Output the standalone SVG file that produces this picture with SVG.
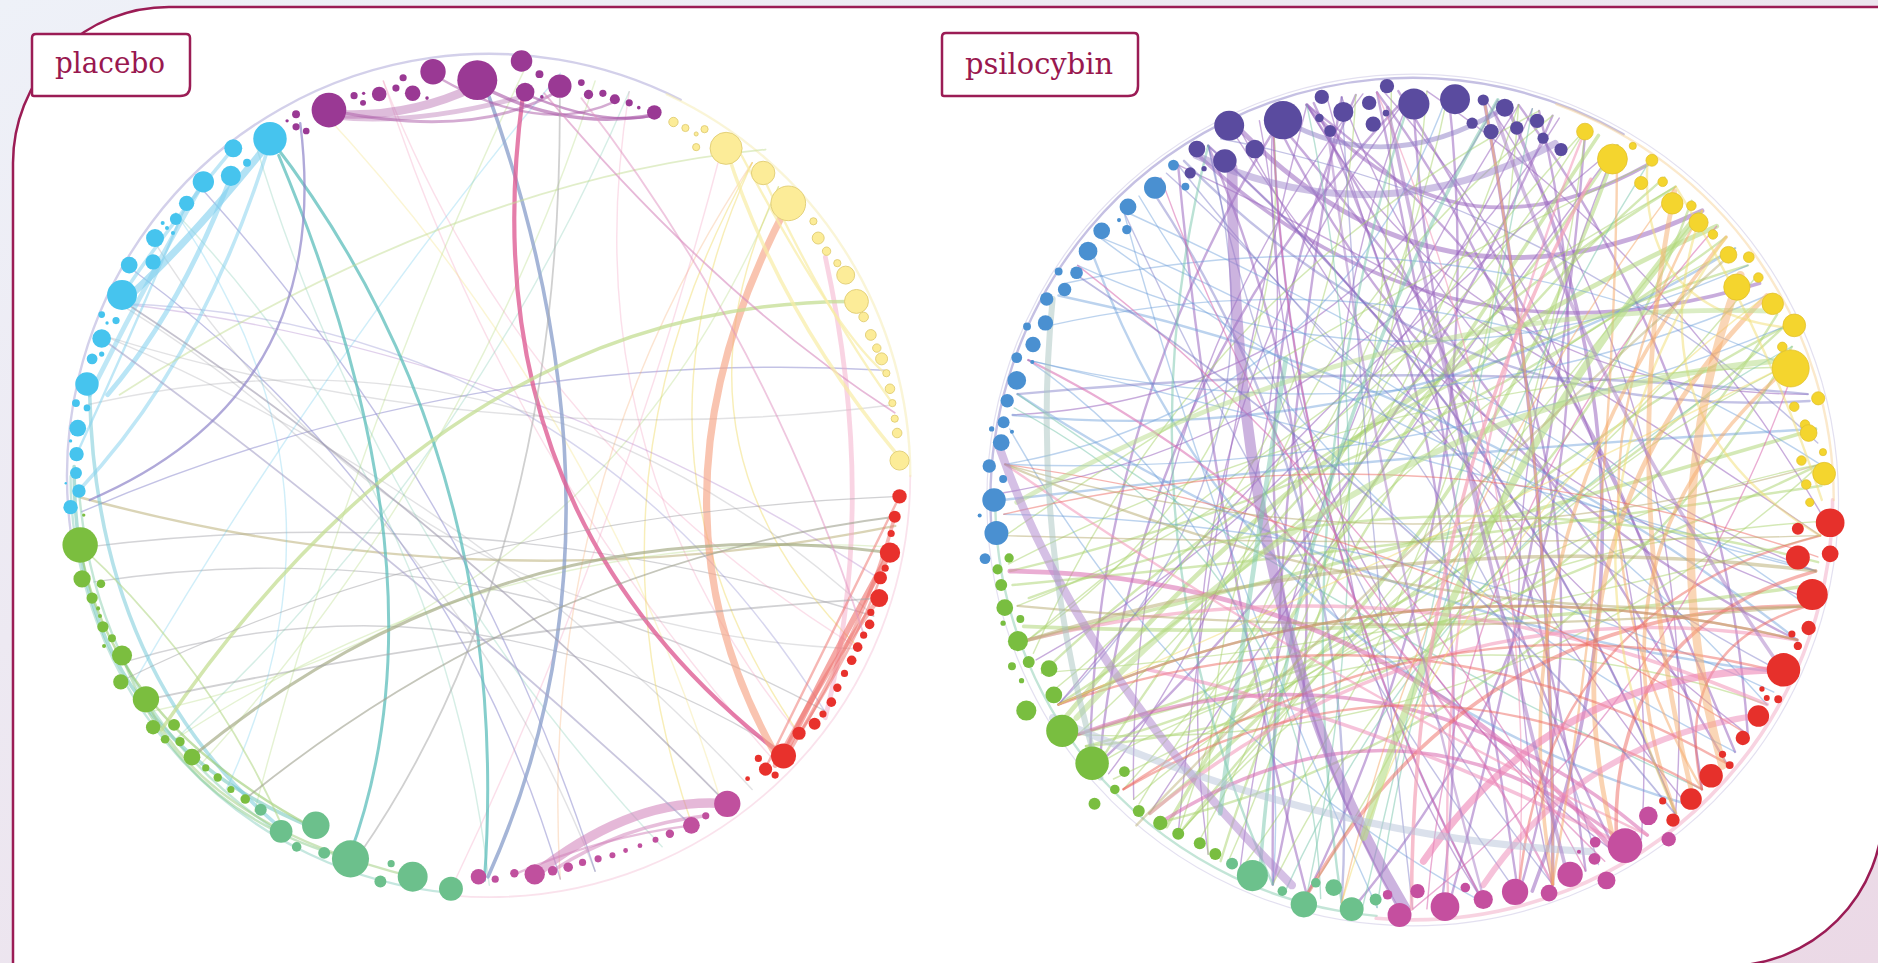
<svg xmlns="http://www.w3.org/2000/svg" width="1878" height="963" viewBox="0 0 1878 963">
<style>
.pu{stroke:#9A67C0;stroke-opacity:.55}.gr{stroke:#A9D46E;stroke-opacity:.5}.bl{stroke:#6A9ED9;stroke-opacity:.45}
.vi{stroke:#7B78C6;stroke-opacity:.45}.te{stroke:#78C6AC;stroke-opacity:.5}.mg{stroke:#D96AAE;stroke-opacity:.55}
.pk{stroke:#F295B8;stroke-opacity:.55}.or{stroke:#F5A766;stroke-opacity:.5}.rd{stroke:#EE6A62;stroke-opacity:.5}
.ol{stroke:#B5AA6E;stroke-opacity:.5}.ye{stroke:#F2DE72;stroke-opacity:.5}.gy{stroke:#9FA0A6;stroke-opacity:.45}
.cy{stroke:#62C6EC;stroke-opacity:.5}.f{stroke-opacity:.3}
.w1{stroke-width:1.2}.w2{stroke-width:2}.w3{stroke-width:3}.w4{stroke-width:4}.w5{stroke-width:5}
.label{font-family:"DejaVu Serif","Liberation Serif",serif;font-size:29px;fill:#99184F}
.box{fill:#fff;stroke:#9B1C55;stroke-width:2.5}
.a{fill:#9A3994}.b{fill:#FCEC98;stroke:#E2CF78;stroke-width:.8}.c{fill:#E8312C}.d{fill:#C0509E}.e{fill:#6CC08C}.g{fill:#7BBE3F}.h{fill:#46C4EE}
.A{fill:#5A4B9F}.B{fill:#F4D52E;stroke:#E0BE2A;stroke-width:.6}.C{fill:#E6302B}.D{fill:#C54F9F}.E{fill:#6CC18C}.G{fill:#79BE40}.H{fill:#4A90D1}
</style>
<defs>
<linearGradient id="bg" x1="0" y1="0" x2="1" y2="1"><stop offset="0" stop-color="#EEF1F8"/><stop offset="1" stop-color="#EBD9E6"/></linearGradient>
<path id="i15" fill="none" d="M339.1,-44.6 Q288.2,0 339.1,44.6"/>
<path id="i30" fill="none" d="M330.3,-88.5 Q247.7,0 330.3,88.5"/>
<path id="i50" fill="none" d="M310,-144.5 Q192.2,0 310,144.5"/>
<path id="i70" fill="none" d="M280.1,-196.2 Q140.1,0 280.1,196.2"/>
<path id="i90" fill="none" d="M241.8,-241.8 Q101.6,0 241.8,241.8"/>
<path id="i110" fill="none" d="M196.2,-280.1 Q68.7,0 196.2,280.1"/>
<path id="i130" fill="none" d="M144.5,-310 Q40.5,0 144.5,310"/>
<path id="i150" fill="none" d="M88.5,-330.3 Q17.7,0 88.5,330.3"/>
<path id="i170" fill="none" d="M29.8,-340.7 Q-150,0 29.8,340.7"/>
<path id="n170" fill="none" d="M29.8,-340.7 Q40,0 29.8,340.7"/>
<path id="k170" fill="none" d="M29.8,-340.7 Q-70,0 29.8,340.7"/>
<path id="m130" fill="none" d="M144.5,-310 Q170,0 144.5,310"/>
<path id="m150" fill="none" d="M88.5,-330.3 Q120,0 88.5,330.3"/>
<path id="m170" fill="none" d="M29.8,-340.7 Q110,0 29.8,340.7"/>
<path id="o50" fill="none" d="M310,-144.5 Q327.6,0 310,144.5"/>
<path id="o90" fill="none" d="M241.8,-241.8 Q296.9,0 241.8,241.8"/>
<path id="o110" fill="none" d="M196.2,-280.1 Q276.4,0 196.2,280.1"/>
<path id="o130" fill="none" d="M144.5,-310 Q253.1,0 144.5,310"/>
<path id="o150" fill="none" d="M88.5,-330.3 Q227.9,0 88.5,330.3"/>
<path id="o170" fill="none" d="M29.8,-340.7 Q201.5,0 29.8,340.7"/>
</defs>

<rect width="1878" height="963" fill="url(#bg)"/>
<path id="frame" d="M13,975 V163 A156,156 0 0 1 169,7 H1883 V810 A156,156 0 0 1 1727,966 Z" fill="#fff" stroke="#9B1C55" stroke-width="2.5"/>

<g transform="scale(1.19618)">
<!-- ================= PLACEBO ================= -->
<g id="placebo-connectors" fill="none" stroke-linecap="round">
 <g transform="translate(409,398)">
  <circle r="353" pathLength="360" stroke="#B5B1DC" stroke-width="2" stroke-opacity=".6" stroke-dasharray="125 235" transform="rotate(172)"/>
  <circle r="350" pathLength="360" stroke="#8CCFC0" stroke-width="2" stroke-opacity=".5" stroke-dasharray="85 275" transform="rotate(95)"/>
  <circle r="352" pathLength="360" stroke="#F3B6CF" stroke-width="1.5" stroke-opacity=".4" stroke-dasharray="95 265" transform="rotate(0)"/>
  <circle r="352" pathLength="360" stroke="#F5EBB0" stroke-width="2" stroke-opacity=".5" stroke-dasharray="65 295" transform="rotate(295)"/>
  <use href="#i150" transform="rotate(95)" class="gy w1"/>
  <use href="#i130" transform="rotate(100)" class="gy w1"/>
  <use href="#m170" transform="rotate(92)" class="ol w2"/>
  <use href="#i110" transform="rotate(98)" class="gy w1"/>
  <use href="#m170" transform="rotate(260)" class="vi w1"/>
  <use href="#i150" transform="rotate(150)" class="vi w1"/>
  <use href="#i130" transform="rotate(145)" class="vi w1"/>
  <use href="#i150" transform="rotate(330)" class="pk w1 f"/>
  <use href="#i130" transform="rotate(320)" class="pk w1 f"/>
  <use href="#i90" transform="rotate(355)" class="ye w1"/>
  <use href="#i110" transform="rotate(5)" class="ye w1"/>
  <use href="#i70" transform="rotate(350)" class="ye w1"/>
  <use href="#i150" transform="rotate(210)" class="gr w1 f"/>
  <use href="#i170" transform="rotate(230)" class="gr w1 f"/>
  <use href="#i130" transform="rotate(155)" class="te w1 f"/>
  <use href="#i90" transform="rotate(175)" class="cy w1 f"/>
  <use href="#i170" transform="rotate(300)" class="gy w1 f"/>
  <use href="#i150" transform="rotate(275)" class="gy w1 f"/>
  <use href="#i130" transform="rotate(140)" class="gy w1 f"/>
  <use href="#i110" transform="rotate(345)" class="pk w1 f"/>
  <use href="#i170" transform="rotate(120)" class="vi w1 f"/>
  <use href="#i150" transform="rotate(125)" class="gy w1 f"/>
  <use href="#i150" transform="rotate(215)" class="te w1 f"/>
  <use href="#i130" transform="rotate(15)" class="or w1 f"/>
  <use href="#i130" transform="rotate(75)" class="gr w1 f"/>
  <use href="#i170" transform="rotate(105)" class="gy w1 f"/>
  <use href="#m170" transform="rotate(290)" class="pu w1 f"/>
  <use href="#m150" transform="rotate(20)" class="pk w1 f"/>
  <use href="#m150" transform="rotate(200)" class="gr w1 f"/>
  <use href="#m130" transform="rotate(215)" class="cy w1 f"/>
  <use href="#m170" transform="rotate(330)" class="ye w1 f"/>
  <use href="#m170" transform="rotate(150)" class="te w1 f"/>
 </g>
 <path d="M62,390 Q60,610 262,692" stroke="#7CC9C0" stroke-width="3" stroke-opacity=".6"/>
 <path d="M75,330 Q80,560 232,690" stroke="#6CC6D6" stroke-width="3" stroke-opacity=".5"/>
 <path d="M66,410 Q82,600 240,700" stroke="#8ACFB0" stroke-width="2" stroke-opacity=".5"/>
 <path d="M67,456 Q90,600 262,692" stroke="#9ACB6F" stroke-width="2" stroke-opacity=".6"/>
 <path d="M67,456 Q180,560 240,700" stroke="#B5D98C" stroke-width="1.5" stroke-opacity=".6"/>
 <path d="M102,548 Q150,680 293,718" stroke="#8ACB8A" stroke-width="2" stroke-opacity=".5"/>
 <path d="M122,585 Q170,690 345,733" stroke="#9BCB7A" stroke-width="2" stroke-opacity=".5"/>
 <path d="M226,118 Q160,200 110,246" stroke="#7FCFEE" stroke-width="6" stroke-opacity=".6"/>
 <path d="M193,148 Q150,260 90,330" stroke="#7FCFEE" stroke-width="4" stroke-opacity=".55"/>
 <path d="M170,152 Q120,240 75,330" stroke="#7FCFEE" stroke-width="4" stroke-opacity=".5"/>
 <path d="M226,118 Q170,300 66,410" stroke="#7FCFEE" stroke-width="3" stroke-opacity=".5"/>
 <path d="M156,170 Q110,280 64,380" stroke="#7FCFEE" stroke-width="2" stroke-opacity=".5"/>
 <path d="M195,124 Q140,190 102,247" stroke="#7FCFEE" stroke-width="3" stroke-opacity=".5"/>
 <path d="M226,116 Q430,380 405,736" stroke="#5CBDBB" stroke-width="2.5" stroke-opacity=".75"/>
 <path d="M233,130 Q380,480 292,716" stroke="#5CBDBB" stroke-width="2.5" stroke-opacity=".75"/>
 <path d="M405,70 Q540,440 408,733" stroke="#8FA3CD" stroke-width="3" stroke-opacity=".8"/>
 <path d="M437,81 Q390,430 655,632" stroke="#DE5E95" stroke-width="3.5" stroke-opacity=".8"/>
 <path d="M655,178 Q530,420 648,630" stroke="#F6A585" stroke-width="6" stroke-opacity=".65"/>
 <path d="M690,215 Q735,420 690,600" stroke="#F4A9C8" stroke-width="4" stroke-opacity=".5"/>
 <path d="M655,632 Q700,540 744,462" stroke="#EE6F6A" stroke-width="5" stroke-opacity=".6"/>
 <path d="M648,640 Q690,560 735,500" stroke="#EE6F6A" stroke-width="4" stroke-opacity=".5"/>
 <path d="M660,628 Q725,520 748,432" stroke="#EE6F6A" stroke-width="3" stroke-opacity=".5"/>
 <path d="M640,642 Q700,520 752,415" stroke="#EE6F6A" stroke-width="2" stroke-opacity=".5"/>
 <path d="M668,614 Q715,540 736,483" stroke="#EE6F6A" stroke-width="2" stroke-opacity=".5"/>
 <path d="M608,672 Q530,665 447,731" stroke="#CF7DB8" stroke-width="8" stroke-opacity=".55"/>
 <path d="M590,682 Q520,690 462,728" stroke="#CF7DB8" stroke-width="3" stroke-opacity=".5"/>
 <path d="M578,690 Q500,700 430,731" stroke="#CF7DB8" stroke-width="2" stroke-opacity=".5"/>
 <path d="M275,95 Q340,100 398,72" stroke="#B56BB0" stroke-width="7" stroke-opacity=".45"/>
 <path d="M280,98 Q350,105 440,80" stroke="#B56BB0" stroke-width="4" stroke-opacity=".4"/>
 <path d="M399,70 Q470,110 547,96" stroke="#A957A6" stroke-width="3" stroke-opacity=".6"/>
 <path d="M438,78 Q500,105 545,97" stroke="#A957A6" stroke-width="2" stroke-opacity=".6"/>
 <path d="M362,62 Q450,115 514,85" stroke="#A957A6" stroke-width="2" stroke-opacity=".5"/>
 <path d="M275,92 Q400,118 468,75" stroke="#A957A6" stroke-width="2.5" stroke-opacity=".5"/>
 <path d="M716,252 Q380,250 135,610" stroke="#C4DE93" stroke-width="3" stroke-opacity=".75"/>
 <path d="M640,125 Q380,150 100,330" stroke="#C4DE93" stroke-width="1.5" stroke-opacity=".5"/>
 <path d="M160,633 Q420,420 744,462" stroke="#A6AC88" stroke-width="2.5" stroke-opacity=".7"/>
 <path d="M205,668 Q450,470 748,432" stroke="#9EA08E" stroke-width="1.5" stroke-opacity=".6"/>
 <path d="M122,585 Q430,520 735,500" stroke="#A4A4A8" stroke-width="1.5" stroke-opacity=".5"/>
 <path d="M100,570 Q380,430 752,415" stroke="#A4A4A8" stroke-width="1" stroke-opacity=".5"/>
 <path d="M100,250 Q360,420 608,672" stroke="#9E9AAD" stroke-width="1.5" stroke-opacity=".6"/>
 <path d="M85,283 Q330,460 578,690" stroke="#A7A1C8" stroke-width="1.5" stroke-opacity=".6"/>
 <path d="M468,82 Q470,470 300,715" stroke="#A9A9A9" stroke-width="1.5" stroke-opacity=".55"/>
 <path d="M251,103 Q280,330 75,418" stroke="#8F85C9" stroke-width="2" stroke-opacity=".7"/>
 <path d="M455,78 Q600,250 748,345" stroke="#D78BBE" stroke-width="1.5" stroke-opacity=".6"/>
 <path d="M486,82 Q640,280 722,530" stroke="#E08FC0" stroke-width="1.5" stroke-opacity=".5"/>
 <path d="M607,124 Q650,260 750,380" stroke="#F8EDA5" stroke-width="3" stroke-opacity=".7"/>
 <path d="M637,146 Q690,260 746,337" stroke="#F8EDA5" stroke-width="2" stroke-opacity=".7"/>
 <path d="M620,130 Q700,280 740,312" stroke="#F8EDA5" stroke-width="2" stroke-opacity=".7"/>
</g>
<g id="placebo-purple" class="a">
 <circle cx="275" cy="92" r="14.5"/><circle cx="247.5" cy="95.5" r="3.3"/><circle cx="240" cy="101" r="1.4"/><circle cx="247.5" cy="106" r="3"/><circle cx="256" cy="109.5" r="2.8"/><circle cx="296" cy="80" r="3"/><circle cx="304" cy="78" r="1.4"/><circle cx="303.5" cy="86" r="2.5"/><circle cx="317" cy="78.6" r="6.1"/><circle cx="331" cy="73.6" r="3"/><circle cx="337" cy="65" r="3"/><circle cx="345" cy="78" r="6.5"/><circle cx="362" cy="60" r="10.6"/><circle cx="399" cy="67" r="16.7"/><circle cx="357" cy="82" r="1.5"/><circle cx="436" cy="51" r="9"/><circle cx="439" cy="77" r="7.8"/><circle cx="468" cy="72" r="9.8"/><circle cx="451" cy="62" r="3.3"/><circle cx="453" cy="81" r="1.5"/><circle cx="486" cy="69" r="2.8"/><circle cx="492" cy="79" r="3.9"/><circle cx="504" cy="78" r="3"/><circle cx="514" cy="83" r="4.2"/><circle cx="526" cy="86" r="3"/><circle cx="534" cy="90" r="1.5"/><circle cx="547" cy="94" r="6.1"/>
</g>
<g id="placebo-yellow" class="b">
 <circle cx="563" cy="102" r="3.9"/><circle cx="573" cy="107" r="3"/><circle cx="582" cy="112" r="1.7"/><circle cx="589" cy="108" r="3"/><circle cx="582" cy="123" r="3"/><circle cx="607" cy="124" r="13.4"/><circle cx="638" cy="144.6" r="9.8"/><circle cx="659" cy="170" r="14.5"/><circle cx="680" cy="185" r="3"/><circle cx="684" cy="199" r="5"/><circle cx="691" cy="210" r="3.5"/><circle cx="700" cy="220" r="3"/><circle cx="707" cy="230" r="7.5"/><circle cx="716" cy="252" r="10"/><circle cx="722" cy="265" r="4"/><circle cx="728" cy="280" r="4.5"/><circle cx="733" cy="291" r="3.5"/><circle cx="737" cy="300" r="5"/><circle cx="741" cy="312" r="3"/><circle cx="744" cy="325" r="4"/><circle cx="746" cy="337" r="3"/><circle cx="748" cy="350" r="3"/><circle cx="750" cy="362" r="4"/><circle cx="752" cy="385" r="8"/>
</g>
<g id="placebo-red" class="c">
 <circle cx="752" cy="415" r="6"/><circle cx="748" cy="432" r="5"/><circle cx="745" cy="446" r="3"/><circle cx="744" cy="462" r="8.5"/><circle cx="740" cy="475" r="3"/><circle cx="736" cy="483" r="5.5"/><circle cx="735" cy="500" r="7.5"/><circle cx="728" cy="512" r="3"/><circle cx="727" cy="522" r="4"/><circle cx="722" cy="531" r="3"/><circle cx="717" cy="541" r="4"/><circle cx="712" cy="552" r="4"/><circle cx="706" cy="563" r="3"/><circle cx="700" cy="575" r="3.5"/><circle cx="695" cy="587" r="4"/><circle cx="688" cy="597" r="3"/><circle cx="681" cy="605" r="5"/><circle cx="668" cy="613" r="5.5"/><circle cx="655" cy="632" r="10.5"/><circle cx="640" cy="643" r="5.5"/><circle cx="634" cy="634" r="3"/><circle cx="648" cy="648" r="3"/><circle cx="625" cy="651" r="2"/>
</g>
<g id="placebo-magenta" class="d">
 <circle cx="608" cy="672" r="11"/><circle cx="590" cy="682" r="3"/><circle cx="578" cy="690" r="7"/><circle cx="560" cy="697" r="3.5"/><circle cx="548" cy="702" r="2.5"/><circle cx="535" cy="707" r="2"/><circle cx="523" cy="711" r="2"/><circle cx="512" cy="715" r="2.5"/><circle cx="500" cy="718" r="3"/><circle cx="487" cy="721" r="3"/><circle cx="475" cy="725" r="4"/><circle cx="462" cy="728" r="4"/><circle cx="447" cy="731" r="8.5"/><circle cx="430" cy="730" r="3.5"/><circle cx="414" cy="735" r="3"/><circle cx="400" cy="733" r="6.5"/>
</g>
<g id="placebo-teal" class="e">
 <circle cx="377" cy="743" r="10"/><circle cx="345" cy="733" r="12.5"/><circle cx="318" cy="737" r="5"/><circle cx="327" cy="722" r="3"/><circle cx="293" cy="718" r="15.5"/><circle cx="271" cy="713" r="5"/><circle cx="264" cy="690" r="11.5"/><circle cx="248" cy="708" r="4"/><circle cx="235" cy="695" r="9.5"/><circle cx="218" cy="677" r="5"/>
</g>
<g id="placebo-green" class="g">
 <circle cx="70" cy="430.6" r="1.4"/><circle cx="67" cy="455.6" r="14.8"/><circle cx="68.6" cy="484" r="7.2"/><circle cx="84.4" cy="488" r="3.6"/><circle cx="77" cy="500" r="4.7"/><circle cx="82" cy="508.6" r="1.7"/><circle cx="83.6" cy="515" r="1.7"/><circle cx="86" cy="524" r="4.7"/><circle cx="93.6" cy="533.6" r="3.3"/><circle cx="87" cy="540" r="1.7"/><circle cx="102" cy="548" r="8.4"/><circle cx="101" cy="570" r="6.4"/><circle cx="122" cy="584.6" r="11"/><circle cx="145.5" cy="606" r="5"/><circle cx="128" cy="608" r="6"/><circle cx="138" cy="618" r="3.6"/><circle cx="150.5" cy="620" r="3.9"/><circle cx="160.5" cy="633" r="7"/><circle cx="172" cy="642" r="3"/><circle cx="182" cy="650" r="3.5"/><circle cx="193" cy="660" r="3"/><circle cx="205" cy="668" r="4"/>
</g>
<g id="placebo-cyan" class="h">
 <circle cx="225.7" cy="116" r="14"/><circle cx="195" cy="124" r="7.5"/><circle cx="206.5" cy="136" r="3.3"/><circle cx="193" cy="147" r="8.4"/><circle cx="170" cy="152" r="8.9"/><circle cx="156" cy="170" r="6.4"/><circle cx="147" cy="183" r="5"/><circle cx="136" cy="186.5" r="1.7"/><circle cx="139.6" cy="190.6" r="1.7"/><circle cx="144.6" cy="194.8" r="1.7"/><circle cx="129.6" cy="199" r="7.5"/><circle cx="128" cy="219" r="6.4"/><circle cx="108" cy="221.6" r="7"/><circle cx="102" cy="246.6" r="12.5"/><circle cx="85" cy="263" r="2.8"/><circle cx="97" cy="268" r="3"/><circle cx="89.5" cy="270" r="1.4"/><circle cx="85" cy="283" r="7.8"/><circle cx="85" cy="296" r="2.2"/><circle cx="77" cy="300" r="4.5"/><circle cx="72.7" cy="321" r="9.8"/><circle cx="63.5" cy="337" r="3.3"/><circle cx="72.7" cy="341" r="2.8"/><circle cx="65" cy="358" r="7"/><circle cx="59" cy="368.6" r="1.4"/><circle cx="64" cy="379.6" r="6"/><circle cx="63.5" cy="395.5" r="5"/><circle cx="66" cy="410.5" r="5.6"/><circle cx="55" cy="404" r="1"/><circle cx="59" cy="424" r="6"/>
</g>

<!-- ================= PSILOCYBIN ================= -->
<g id="psilocybin-connectors" fill="none" stroke-linecap="round">
 <g transform="translate(1181,418)">
  <circle r="356" stroke="#D0CCE6" stroke-width="1" stroke-opacity=".6"/>
  <circle r="353" pathLength="360" stroke="#8C82C8" stroke-width="2" stroke-opacity=".5" stroke-dasharray="125 235" transform="rotate(175)"/>
  <circle r="349" pathLength="360" stroke="#88CCB0" stroke-width="2" stroke-opacity=".5" stroke-dasharray="85 275" transform="rotate(95)"/>
  <circle r="351" pathLength="360" stroke="#F2A7C4" stroke-width="3" stroke-opacity=".5" stroke-dasharray="95 265" transform="rotate(0)"/>
  <circle r="352" pathLength="360" stroke="#F8D49A" stroke-width="2" stroke-opacity=".5" stroke-dasharray="70 290" transform="rotate(290)"/>
  <use href="#i130" transform="rotate(315)" class="pu w2"/><use href="#i110" transform="rotate(315)" class="pu w1"/><use href="#n170" transform="rotate(350)" class="pu w2"/>
  <use href="#o130" transform="rotate(205)" class="pu w2"/><use href="#m150" transform="rotate(355)" class="pu w3"/><use href="#i90" transform="rotate(300)" class="pu w1"/>
  <use href="#o110" transform="rotate(340)" class="pu w2"/><use href="#i130" transform="rotate(175)" class="pu w2"/><use href="#m170" transform="rotate(165)" class="pu w2"/>
  <use href="#o170" transform="rotate(177)" class="pu w2"/><use href="#i150" transform="rotate(215)" class="pu w2"/><use href="#i110" transform="rotate(193)" class="pu w1"/>
  <use href="#o90" transform="rotate(317)" class="pu w1"/><use href="#m130" transform="rotate(333)" class="pu w2"/><use href="#k170" transform="rotate(190)" class="pu w2"/>
  <use href="#o150" transform="rotate(358)" class="pu w3"/><use href="#i70" transform="rotate(280)" class="pu w4"/><use href="#i50" transform="rotate(280)" class="pu w3"/>
  <use href="#i90" transform="rotate(283)" class="pu w3"/><use href="#i150" transform="rotate(333)" class="pu w1"/><use href="#o130" transform="rotate(198)" class="pu w1"/>
  <use href="#m170" transform="rotate(200)" class="pu w1"/><use href="#n170" transform="rotate(215)" class="pu w1"/><use href="#m150" transform="rotate(225)" class="pu w1"/>
  <use href="#m170" transform="rotate(340)" class="pu w2"/><use href="#i150" transform="rotate(320)" class="pu w1"/><use href="#m130" transform="rotate(190)" class="pu w1"/>
  <use href="#m130" transform="rotate(300)" class="pu w1"/><use href="#o150" transform="rotate(330)" class="pu w2"/><use href="#o150" transform="rotate(195)" class="pu w1"/>
  <use href="#i130" transform="rotate(5)" class="pu w1"/><use href="#m150" transform="rotate(10)" class="pu w2"/><use href="#i170" transform="rotate(355)" class="pu w1"/>
  <use href="#m170" transform="rotate(325)" class="pu w2"/><use href="#o170" transform="rotate(13)" class="pu w2"/><use href="#i130" transform="rotate(222)" class="pu w1"/>
  <use href="#i150" transform="rotate(345)" class="pu w2"/><use href="#o110" transform="rotate(197)" class="pu w2"/><use href="#i90" transform="rotate(237)" class="pu w1"/>
  <use href="#k170" transform="rotate(171)" class="pu w2"/><use href="#i130" transform="rotate(309)" class="pu w1"/><use href="#o150" transform="rotate(341)" class="pu w1"/>
  <use href="#i110" transform="rotate(236)" class="pu w1"/><use href="#m150" transform="rotate(325)" class="pu w2"/>
  <use href="#o170" transform="rotate(350)" class="pu w2"/><use href="#m150" transform="rotate(185)" class="pu w2"/><use href="#o130" transform="rotate(345)" class="pu w1"/>
  <use href="#i170" transform="rotate(335)" class="pu w1"/><use href="#m130" transform="rotate(170)" class="pu w2"/>
  <use href="#k170" transform="rotate(215)" class="gr w3"/><use href="#m170" transform="rotate(225)" class="gr w2"/><use href="#i150" transform="rotate(225)" class="gr w2"/>
  <use href="#o170" transform="rotate(205)" class="gr w1"/><use href="#n170" transform="rotate(75)" class="gr w3"/><use href="#m150" transform="rotate(70)" class="gr w2"/>
  <use href="#i130" transform="rotate(60)" class="gr w1"/><use href="#m170" transform="rotate(240)" class="gr w2"/><use href="#i150" transform="rotate(210)" class="gr w1"/>
  <use href="#k170" transform="rotate(33)" class="gr w2"/><use href="#i130" transform="rotate(230)" class="gr w1"/><use href="#o150" transform="rotate(53)" class="gr w2"/>
  <use href="#m170" transform="rotate(233)" class="gr w4"/><use href="#n170" transform="rotate(83)" class="gr w2"/><use href="#i150" transform="rotate(197)" class="gr w1"/>
  <use href="#i110" transform="rotate(85)" class="gr w1"/><use href="#m170" transform="rotate(52)" class="gr w1"/><use href="#o130" transform="rotate(223)" class="gr w1"/>
  <use href="#i150" transform="rotate(245)" class="gr w2"/><use href="#m170" transform="rotate(210)" class="gr w1"/><use href="#i130" transform="rotate(210)" class="gr w1"/>
  <use href="#m150" transform="rotate(87)" class="gr w3"/><use href="#k170" transform="rotate(47)" class="gr w1"/><use href="#i110" transform="rotate(207)" class="gr w1"/>
  <use href="#o170" transform="rotate(58)" class="gr w2"/><use href="#i150" transform="rotate(192)" class="gr w1"/><use href="#m170" transform="rotate(256)" class="gr w1"/>
  <use href="#i130" transform="rotate(68)" class="gr w1"/><use href="#i90" transform="rotate(205)" class="gr w1"/><use href="#n170" transform="rotate(212)" class="gr w3"/>
  <use href="#m150" transform="rotate(80)" class="gr w1"/><use href="#k170" transform="rotate(200)" class="gr w1"/><use href="#m170" transform="rotate(60)" class="gr w2"/>
  <use href="#n170" transform="rotate(40)" class="gr w1"/><use href="#i150" transform="rotate(50)" class="gr w2"/><use href="#m150" transform="rotate(235)" class="gr w1"/>
  <use href="#m130" transform="rotate(240)" class="gr w1"/><use href="#i130" transform="rotate(45)" class="gr w1"/><use href="#o150" transform="rotate(70)" class="gr w1"/>
  <use href="#m170" transform="rotate(20)" class="gr w1"/><use href="#i170" transform="rotate(228)" class="gr w2"/>
  <use href="#i130" transform="rotate(265)" class="bl w1"/><use href="#m170" transform="rotate(295)" class="bl w2"/><use href="#o110" transform="rotate(135)" class="bl w1"/>
  <use href="#i150" transform="rotate(295)" class="bl w1"/><use href="#i90" transform="rotate(230)" class="bl w1"/><use href="#n170" transform="rotate(265)" class="bl w2"/>
  <use href="#m130" transform="rotate(160)" class="bl w1"/><use href="#o150" transform="rotate(280)" class="bl w1"/><use href="#i110" transform="rotate(270)" class="bl w1"/>
  <use href="#m170" transform="rotate(110)" class="bl w2"/><use href="#i150" transform="rotate(103)" class="bl w1"/><use href="#o130" transform="rotate(277)" class="bl w1"/>
  <use href="#i130" transform="rotate(257)" class="bl w2"/><use href="#k170" transform="rotate(313)" class="bl w1"/><use href="#i90" transform="rotate(155)" class="bl w1"/>
  <use href="#o170" transform="rotate(133)" class="bl w2"/><use href="#i150" transform="rotate(260)" class="bl w1"/><use href="#m150" transform="rotate(300)" class="bl w1"/>
  <use href="#n170" transform="rotate(285)" class="bl w1"/><use href="#m170" transform="rotate(305)" class="bl w1"/>
  <use href="#i150" transform="rotate(310)" class="vi w1"/><use href="#m170" transform="rotate(325)" class="vi w1"/><use href="#i130" transform="rotate(165)" class="vi w2"/>
  <use href="#o110" transform="rotate(297)" class="vi w1"/><use href="#m150" transform="rotate(150)" class="vi w1"/><use href="#i110" transform="rotate(291)" class="vi w2"/>
  <use href="#k170" transform="rotate(148)" class="vi w1"/><use href="#i90" transform="rotate(195)" class="vi w1"/><use href="#m170" transform="rotate(155)" class="vi w1"/>
  <use href="#n170" transform="rotate(175)" class="vi w1"/><use href="#m150" transform="rotate(270)" class="vi w2"/>
  <use href="#m170" transform="rotate(185)" class="te w2"/><use href="#i150" transform="rotate(180)" class="te w1"/><use href="#o130" transform="rotate(175)" class="te w2"/>
  <use href="#n170" transform="rotate(12)" class="te w1"/><use href="#i130" transform="rotate(43)" class="te w1"/><use href="#i90" transform="rotate(148)" class="te w1"/>
  <use href="#m170" transform="rotate(197)" class="te w3"/><use href="#i150" transform="rotate(20)" class="te w1"/><use href="#m150" transform="rotate(120)" class="te w1"/>
  <use href="#i110" transform="rotate(115)" class="mg w4"/><use href="#i90" transform="rotate(100)" class="mg w3"/><use href="#i130" transform="rotate(135)" class="mg w2"/>
  <use href="#m170" transform="rotate(165)" class="mg w1"/><use href="#i150" transform="rotate(140)" class="mg w1"/><use href="#i70" transform="rotate(93)" class="mg w3"/>
  <use href="#i130" transform="rotate(23)" class="mg w1"/><use href="#m170" transform="rotate(147)" class="mg w1"/><use href="#o110" transform="rotate(35)" class="mg w1"/>
  <use href="#m170" transform="rotate(350)" class="pk w1"/><use href="#i150" transform="rotate(10)" class="pk w2"/><use href="#i130" transform="rotate(95)" class="pk w3"/>
  <use href="#i110" transform="rotate(75)" class="pk w3"/><use href="#m130" transform="rotate(120)" class="pk w2"/>
  <use href="#i90" transform="rotate(15)" class="or w4"/><use href="#i110" transform="rotate(15)" class="or w3"/><use href="#m130" transform="rotate(5)" class="or w2"/>
  <use href="#i70" transform="rotate(15)" class="or w3"/><use href="#i150" transform="rotate(25)" class="or w1"/><use href="#i90" transform="rotate(0)" class="or w2"/>
  <use href="#m150" transform="rotate(355)" class="or w2"/>
  <use href="#i50" transform="rotate(35)" class="rd w3"/><use href="#i70" transform="rotate(40)" class="rd w2"/><use href="#i90" transform="rotate(60)" class="rd w3"/>
  <use href="#i110" transform="rotate(80)" class="rd w2"/><use href="#i130" transform="rotate(85)" class="rd w2"/><use href="#i150" transform="rotate(110)" class="rd w1"/>
  <use href="#k170" transform="rotate(93)" class="rd w1"/><use href="#i110" transform="rotate(95)" class="rd w2"/><use href="#i90" transform="rotate(90)" class="rd w2"/>
  <use href="#i30" transform="rotate(30)" class="rd w2"/>
  <use href="#i130" transform="rotate(85)" class="ol w2"/><use href="#m150" transform="rotate(90)" class="ol w2"/><use href="#n170" transform="rotate(90)" class="ol w1"/>
  <use href="#k170" transform="rotate(270)" class="ol w1"/><use href="#i150" transform="rotate(85)" class="ol w3"/><use href="#m170" transform="rotate(100)" class="ol w2"/>
  <use href="#i90" transform="rotate(5)" class="ye w2"/><use href="#i130" transform="rotate(35)" class="ye w1"/><use href="#n170" transform="rotate(65)" class="ye w1"/>
  <use href="#o50" transform="rotate(335)" class="ye w2"/><use href="#i30" transform="rotate(320)" class="ye w2"/><use href="#i50" transform="rotate(340)" class="ye w2"/>
 </g>
 <path d="M1030,140 Q1030,520 1175,760" stroke="#A274C4" stroke-width="9" stroke-opacity=".55"/>
 <path d="M1140,700 Q1220,420 1420,180" stroke="#B5DC84" stroke-width="6" stroke-opacity=".6"/>
 <path d="M900,600 Q1150,330 1500,300" stroke="#B8DC8A" stroke-width="5" stroke-opacity=".55"/>
 <path d="M850,420 Q1150,250 1480,260" stroke="#B8DC8A" stroke-width="4" stroke-opacity=".5"/>
 <path d="M1490,560 Q1300,560 1190,720" stroke="#EE86B5" stroke-width="6" stroke-opacity=".6"/>
 <path d="M1470,598 Q1320,620 1240,740" stroke="#EE86B5" stroke-width="5" stroke-opacity=".5"/>
 <path d="M1358,707 Q1150,600 960,560" stroke="#EE86B5" stroke-width="3" stroke-opacity=".5"/>
 <path d="M1455,230 Q1380,430 1440,640" stroke="#F6AE6E" stroke-width="7" stroke-opacity=".5"/>
 <path d="M1400,160 Q1350,400 1415,665" stroke="#F6AE6E" stroke-width="4" stroke-opacity=".5"/>
 <path d="M1330,150 Q1180,420 1180,760" stroke="#F4A3B8" stroke-width="3" stroke-opacity=".7"/>
 <path d="M880,250 Q860,450 920,650" stroke="#A8C4C0" stroke-width="5" stroke-opacity=".5"/>
 <path d="M834,370 Q900,560 1080,740" stroke="#B28DD0" stroke-width="7" stroke-opacity=".55"/>
 <path d="M1000,130 Q1150,200 1300,120" stroke="#9E86CC" stroke-width="6" stroke-opacity=".5"/>
 <path d="M1072,100 Q1160,150 1258,90" stroke="#8C7CC6" stroke-width="4" stroke-opacity=".5"/>
 <path d="M1075,300 Q1040,520 1020,680" stroke="#7CC8B0" stroke-width="4" stroke-opacity=".5"/>
 <path d="M880,600 Q1100,700 1330,712" stroke="#B7C3DA" stroke-width="6" stroke-opacity=".5"/>
 <path d="M1160,90 Q1230,420 1310,730" stroke="#A77BC6" stroke-width="3" stroke-opacity=".55"/>
 <path d="M1250,95 Q1330,330 1490,560" stroke="#A77BC6" stroke-width="3" stroke-opacity=".5"/>
 <path d="M1110,110 Q1150,420 1240,750" stroke="#A77BC6" stroke-width="2" stroke-opacity=".5"/>
 <path d="M860,500 Q1180,380 1520,470" stroke="#A9D46E" stroke-width="2" stroke-opacity=".5"/>
 <path d="M900,230 Q1200,430 1400,680" stroke="#7B78C6" stroke-width="1.5" stroke-opacity=".5"/>
 <path d="M1450,210 Q1180,450 950,690" stroke="#B5AA6E" stroke-width="2" stroke-opacity=".45"/>
</g>
<g id="psilocybin-blue" class="H">
 <circle cx="965.6" cy="157" r="9.2"/><circle cx="943" cy="173" r="7"/><circle cx="921" cy="193" r="7"/><circle cx="942" cy="192" r="3.9"/><circle cx="935.5" cy="184" r="1.7"/><circle cx="909.6" cy="210" r="7.8"/><circle cx="900" cy="228" r="5.3"/><circle cx="885" cy="227" r="3.3"/><circle cx="890" cy="242" r="5.6"/><circle cx="875" cy="250" r="5.6"/><circle cx="874" cy="270" r="6.4"/><circle cx="858.6" cy="273" r="3.3"/><circle cx="863.6" cy="288" r="6.4"/><circle cx="850" cy="299" r="4.5"/><circle cx="863" cy="302.6" r="1.7"/><circle cx="850" cy="318" r="7.8"/><circle cx="842" cy="335" r="5.6"/><circle cx="839" cy="353" r="5"/><circle cx="981" cy="138" r="4.5"/><circle cx="991" cy="156" r="3.3"/><circle cx="829" cy="358.6" r="2.2"/><circle cx="846" cy="361" r="1.7"/><circle cx="837" cy="370" r="7"/><circle cx="827" cy="389.6" r="5.6"/><circle cx="838.6" cy="400.5" r="3.3"/><circle cx="831" cy="418" r="9.8"/><circle cx="819" cy="431" r="1.7"/><circle cx="833" cy="445.6" r="10"/><circle cx="823.5" cy="467" r="4.5"/>
</g>
<g id="psilocybin-purple" class="A">
 <circle cx="1027.6" cy="105" r="12.5"/><circle cx="1072.6" cy="100.5" r="16"/><circle cx="1000.6" cy="124.6" r="7"/><circle cx="1024" cy="134.6" r="9.8"/><circle cx="1049" cy="124.6" r="7.8"/><circle cx="995" cy="144.6" r="4.7"/><circle cx="1006.6" cy="141" r="2.2"/><circle cx="1105" cy="81" r="6"/><circle cx="1103" cy="98.7" r="3.6"/><circle cx="1112" cy="109.5" r="5"/><circle cx="1123" cy="93.6" r="8.4"/><circle cx="1144.6" cy="86" r="6"/><circle cx="1159.5" cy="72" r="6"/><circle cx="1158.7" cy="94.5" r="2.8"/><circle cx="1148" cy="103.7" r="6.4"/><circle cx="1182" cy="87" r="13"/><circle cx="1216.4" cy="83" r="12.5"/><circle cx="1240" cy="83.6" r="4.7"/><circle cx="1258" cy="90" r="7.5"/><circle cx="1230.7" cy="103" r="4.7"/><circle cx="1246.5" cy="110" r="6.4"/><circle cx="1268" cy="107" r="5.6"/><circle cx="1285" cy="101" r="6"/><circle cx="1290" cy="115.5" r="4.7"/><circle cx="1305" cy="125" r="5.5"/>
</g>
<g id="psilocybin-yellow" class="B">
 <circle cx="1325" cy="110" r="7"/><circle cx="1348" cy="133" r="12.5"/><circle cx="1365" cy="122" r="3"/><circle cx="1381" cy="134" r="5"/><circle cx="1372" cy="153" r="5.5"/><circle cx="1390" cy="152" r="4"/><circle cx="1398" cy="170" r="9"/><circle cx="1414" cy="172" r="4"/><circle cx="1420" cy="186" r="8"/><circle cx="1432" cy="196" r="4"/><circle cx="1445" cy="213" r="7"/><circle cx="1462" cy="215" r="4.5"/><circle cx="1452" cy="240" r="11"/><circle cx="1470" cy="232" r="4"/><circle cx="1482" cy="254" r="9"/><circle cx="1500" cy="272" r="9.5"/><circle cx="1490" cy="290" r="4"/><circle cx="1497" cy="308" r="15.5"/><circle cx="1520" cy="333" r="5.5"/><circle cx="1500" cy="340" r="4"/><circle cx="1509" cy="355" r="4"/><circle cx="1512" cy="362" r="7"/><circle cx="1524" cy="378" r="3"/><circle cx="1506" cy="385" r="4"/><circle cx="1525" cy="396" r="9.5"/><circle cx="1510" cy="405" r="4"/><circle cx="1513" cy="420" r="3.5"/>
</g>
<g id="psilocybin-red" class="C">
 <circle cx="1530" cy="437" r="12"/><circle cx="1503" cy="442" r="5"/><circle cx="1503" cy="466" r="10"/><circle cx="1530" cy="463" r="7"/><circle cx="1515" cy="497" r="13"/><circle cx="1512" cy="525" r="6"/><circle cx="1498" cy="530" r="3"/><circle cx="1503" cy="540" r="3.5"/><circle cx="1491" cy="560" r="14"/><circle cx="1473" cy="576" r="2.2"/><circle cx="1477" cy="583.6" r="2.5"/><circle cx="1486.6" cy="584.6" r="3.3"/><circle cx="1470" cy="598.6" r="9"/><circle cx="1457" cy="617" r="6"/><circle cx="1440" cy="630.6" r="3"/><circle cx="1446" cy="639.6" r="3.3"/><circle cx="1430.5" cy="648.6" r="9.8"/><circle cx="1413.7" cy="668" r="9"/><circle cx="1390" cy="669.6" r="3"/><circle cx="1398.6" cy="685.6" r="5.6"/>
</g>
<g id="psilocybin-magenta" class="D">
 <circle cx="1358.5" cy="707" r="14.5"/><circle cx="1378" cy="682" r="7.8"/><circle cx="1395" cy="701.6" r="6"/><circle cx="1333.6" cy="704" r="4.5"/><circle cx="1333" cy="718" r="5"/><circle cx="1320" cy="712" r="1.7"/><circle cx="1312.6" cy="731" r="10.6"/><circle cx="1343" cy="736" r="7.5"/><circle cx="1266.6" cy="745.6" r="11"/><circle cx="1295" cy="746.6" r="7"/><circle cx="1240" cy="752" r="8"/><circle cx="1225" cy="742" r="4"/><circle cx="1208" cy="758" r="12"/><circle cx="1185" cy="745" r="6"/><circle cx="1170" cy="765" r="10"/><circle cx="1160" cy="748" r="4"/>
</g>
<g id="psilocybin-teal" class="E">
 <circle cx="1150" cy="752" r="5"/><circle cx="1130" cy="760" r="10"/><circle cx="1115" cy="742" r="7"/><circle cx="1090" cy="756" r="11"/><circle cx="1100" cy="738" r="4"/><circle cx="1072" cy="745" r="4"/><circle cx="1047" cy="732" r="13"/><circle cx="1030" cy="722" r="5"/>
</g>
<g id="psilocybin-green" class="G">
 <circle cx="843.6" cy="466.5" r="3.9"/><circle cx="834" cy="476" r="4.2"/><circle cx="837" cy="489" r="5"/><circle cx="840" cy="508" r="7"/><circle cx="853" cy="517.5" r="3.3"/><circle cx="838.6" cy="521" r="2.2"/><circle cx="851" cy="536" r="8.4"/><circle cx="860" cy="553.5" r="5"/><circle cx="846" cy="557" r="3.3"/><circle cx="877" cy="559" r="7"/><circle cx="854" cy="569" r="2.2"/><circle cx="881" cy="581" r="7"/><circle cx="858" cy="594" r="8.4"/><circle cx="888" cy="611" r="13.4"/><circle cx="913" cy="638" r="14"/><circle cx="940" cy="645" r="4.5"/><circle cx="915" cy="672" r="5"/><circle cx="932" cy="660" r="4"/><circle cx="952" cy="678" r="5"/><circle cx="970" cy="688" r="6"/><circle cx="985" cy="697" r="5"/><circle cx="1003" cy="705" r="5"/><circle cx="1016" cy="714" r="5"/>
</g>
</g>

<g id="label-placebo">
 <path class="box" d="M36,34 H186 Q190,34 190,38 V86 Q190,96 180,96 H34 Q32,96 32,94 V38 Q32,34 36,34 Z"/>
 <text class="label" x="55" y="73" textLength="110" lengthAdjust="spacingAndGlyphs">placebo</text>
</g>
<g id="label-psilocybin">
 <path class="box" d="M946,33 H1134 Q1138,33 1138,37 V86 Q1138,96 1128,96 H944 Q942,96 942,94 V37 Q942,33 946,33 Z"/>
 <text class="label" x="965" y="74" textLength="148" lengthAdjust="spacingAndGlyphs">psilocybin</text>
</g>
</svg>
